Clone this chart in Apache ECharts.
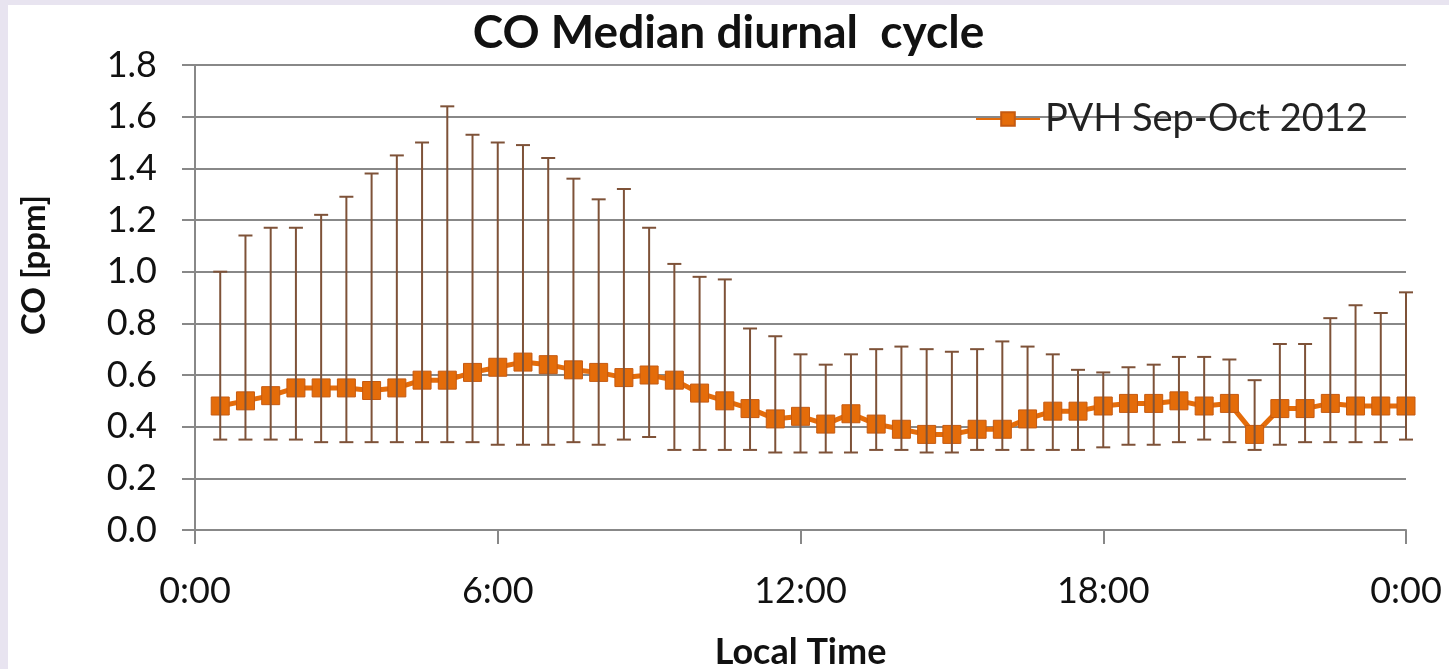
<!DOCTYPE html>
<html>
<head>
<meta charset="utf-8">
<script src="https://cdn.jsdelivr.net/npm/echarts@6/dist/echarts.min.js"></script>
<style>
  html, body { margin: 0; padding: 0; background: #e8e4f0; }
  #chart { position: absolute; left: 8px; top: 5px; width: 1441px; height: 664px; background: #ffffff; }
</style>
</head>
<body>
<div id="chart"></div>
<script>
// Half-hourly CO medians with lower/upper spread, PVH Sep-Oct 2012
const times = ['0:30','1:00','1:30','2:00','2:30','3:00','3:30','4:00','4:30','5:00','5:30','6:00',
               '6:30','7:00','7:30','8:00','8:30','9:00','9:30','10:00','10:30','11:00','11:30','12:00',
               '12:30','13:00','13:30','14:00','14:30','15:00','15:30','16:00','16:30','17:00','17:30','18:00',
               '18:30','19:00','19:30','20:00','20:30','21:00','21:30','22:00','22:30','23:00','23:30','24:00'];
const median = [0.48,0.50,0.52,0.55,0.55,0.55,0.54,0.55,0.58,0.58,0.61,0.63,
                0.65,0.64,0.62,0.61,0.59,0.60,0.58,0.53,0.50,0.47,0.43,0.44,
                0.41,0.45,0.41,0.39,0.37,0.37,0.39,0.39,0.43,0.46,0.46,0.48,
                0.49,0.49,0.50,0.48,0.49,0.37,0.47,0.47,0.49,0.48,0.48,0.48];
const upper  = [1.00,1.14,1.17,1.17,1.22,1.29,1.38,1.45,1.50,1.64,1.53,1.50,
                1.49,1.44,1.36,1.28,1.32,1.17,1.03,0.98,0.97,0.78,0.75,0.68,
                0.64,0.68,0.70,0.71,0.70,0.69,0.70,0.73,0.71,0.68,0.62,0.61,
                0.63,0.64,0.67,0.67,0.66,0.58,0.72,0.72,0.82,0.87,0.84,0.92];
const lower  = [0.35,0.35,0.35,0.35,0.34,0.34,0.34,0.34,0.34,0.34,0.34,0.33,
                0.33,0.33,0.34,0.33,0.35,0.36,0.31,0.31,0.31,0.31,0.30,0.30,
                0.30,0.30,0.31,0.31,0.30,0.30,0.31,0.31,0.31,0.31,0.31,0.32,
                0.33,0.33,0.34,0.35,0.34,0.31,0.33,0.34,0.34,0.34,0.34,0.35];
const xTicks = [0, 6, 12, 18, 24];

function toHours(t) {
  const p = t.split(':');
  return Number(p[0]) + Number(p[1]) / 60;
}
const hours = times.map(toHours);

const FONT = 'Lato';
const ORANGE = '#e46c0a';
const BAR = '#7e5238';
const GRID = '#888888';

const chart = echarts.init(document.getElementById('chart'), null, { renderer: 'canvas' });

chart.setOption({
  animation: false,
  textStyle: { fontFamily: FONT },
  title: {
    text: 'CO Median diurnal  cycle',
    left: 'center',
    top: 0,
    textStyle: { fontFamily: FONT, fontWeight: 'bold', fontSize: 46, color: '#111' }
  },
  legend: {
    left: 962,
    top: 90,
    itemWidth: 64,
    itemHeight: 17,
    itemGap: 6,
    textStyle: { fontFamily: FONT, fontSize: 38, color: '#222' },
    data: ['PVH Sep-Oct 2012']
  },
  grid: { left: 187, right: 43, top: 60, bottom: 139, outerBoundsMode: 'none' },
  xAxis: {
    type: 'value',
    min: 0, max: 24, interval: 6,
    name: 'Local Time',
    nameLocation: 'middle',
    nameGap: 104,
    nameTextStyle: { fontFamily: FONT, fontWeight: 'bold', fontSize: 36, color: '#111' },
    axisLine: { show: true, lineStyle: { color: GRID, width: 2 } },
    axisTick: { show: true, length: 14, lineStyle: { color: GRID, width: 2 } },
    splitLine: { show: false },
    axisLabel: {
      fontFamily: FONT, fontSize: 36, color: '#111', margin: 43,
      customValues: xTicks,
      formatter: v => (v % 24) + ':00'
    }
  },
  yAxis: {
    type: 'value',
    min: 0, max: 1.8, interval: 0.2,
    axisLine: { show: true, lineStyle: { color: GRID, width: 2 } },
    axisTick: { show: true, length: 13, lineStyle: { color: GRID, width: 2 } },
    splitLine: { show: true, lineStyle: { color: GRID, width: 2 } },
    axisLabel: {
      fontFamily: FONT, fontSize: 36, color: '#111', margin: 38,
      formatter: v => v.toFixed(1)
    }
  },
  graphic: [{
    type: 'text',
    left: 10,
    top: 190,
    rotation: Math.PI / 2,
    style: { text: 'CO [ppm]', fontFamily: FONT, fontWeight: 'bold', fontSize: 33, fill: '#111' }
  }],
  series: [
    {
      name: 'PVH Sep-Oct 2012',
      type: 'line',
      data: hours.map((h, i) => [h, median[i]]),
      symbol: 'rect',
      symbolSize: 18,
      lineStyle: { color: ORANGE, width: 5 },
      itemStyle: { color: ORANGE, borderColor: '#c55a11', borderWidth: 1 },
      z: 2
    },
    {
      name: 'range',
      type: 'custom',
      data: hours.map((h, i) => [h, lower[i], upper[i]]),
      z: 3,
      silent: true,
      renderItem: function (params, api) {
        const lo = api.coord([api.value(0), api.value(1)]);
        const hi = api.coord([api.value(0), api.value(2)]);
        const cap = 7;
        const st = { stroke: BAR, lineWidth: 2 };
        return {
          type: 'group',
          children: [
            { type: 'line', shape: { x1: lo[0], y1: lo[1], x2: hi[0], y2: hi[1] }, style: st },
            { type: 'line', shape: { x1: hi[0] - cap, y1: hi[1], x2: hi[0] + cap, y2: hi[1] }, style: st },
            { type: 'line', shape: { x1: lo[0] - cap, y1: lo[1], x2: lo[0] + cap, y2: lo[1] }, style: st }
          ]
        };
      }
    }
  ]
});
</script>
</body>
</html>
